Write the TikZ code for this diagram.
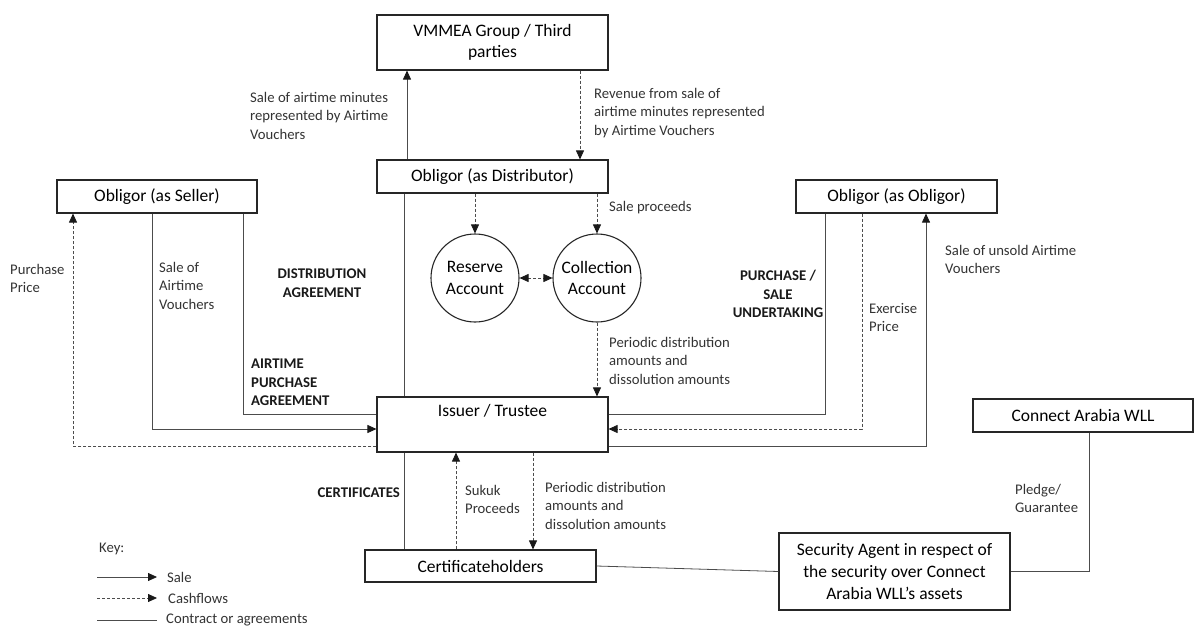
\documentclass[tikz,border=0pt]{standalone}
\usepackage{fontspec}
\setmainfont{Carlito}
\usepackage{tikz}
\usetikzlibrary{arrows.meta,positioning}

\newcommand{\boxtxt}{\fontsize{17.5}{21.6}\selectfont}
\newcommand{\lbltxt}{\fontsize{14.7}{18.5}\selectfont}
\newcommand{\bldtxt}{\fontsize{14.8}{18.5}\selectfont\bfseries}

\begin{document}
\begin{tikzpicture}[x=1pt, y=-1pt,
    >={Triangle[length=9pt,width=8pt,color=black!90]},
    box/.style={draw=black!85, line width=1.1pt, fill=white, font=\boxtxt, align=center, inner sep=2pt},
    acct/.style={circle, draw=black!85, line width=1.1pt, minimum size=88pt, font=\boxtxt, align=center, inner sep=0pt},
    lbl/.style={font=\lbltxt, text=black!80, align=left, inner sep=0pt},
    bld/.style={font=\bldtxt, text=black!90, align=left, inner sep=0pt},
    contract/.style={draw=black!70, line width=0.8pt},
    sale/.style={contract, ->},
    cash/.style={contract, dash pattern=on 3pt off 2pt, ->}]
            \useasboundingbox (0,0) rectangle (1194,626);
            \node[box, minimum width=231, minimum height=55] (vmmea) at (492.5,42.5) {VMMEA Group / Third\\parties};
            \node[box, minimum width=231, minimum height=33] (dist) at (492.5,176.5) {Obligor (as Distributor)};
            \node[acct] (reserve) at (475,278) {Reserve\\Account};
            \node[acct] (collect) at (597,278) {Collection\\Account};
            \node[box, minimum width=231, minimum height=55,
                label={[name=issuertext, anchor=north, yshift=-8pt, inner sep=0pt, font=\boxtxt]north:Issuer / Trustee}] (issuer) at (492.5,424.5) {};
            \node[box, minimum width=200, minimum height=33] (seller) at (157,196.5) {Obligor (as Seller)};
            \node[box, minimum width=201, minimum height=33] (oblig) at (896.5,196.5) {Obligor (as Obligor)};
            \node[box, minimum width=220, minimum height=33] (connect) at (1083,415.5) {Connect Arabia WLL};
            \node[box, minimum width=231, minimum height=77] (secagent) at (894.5,571.5) {Security Agent in respect of\\the security over Connect\\Arabia WLL’s assets};
            \node[box, minimum width=231, minimum height=32] (certs) at (480.5,566) {Certificateholders};

            \draw[sale] ([xshift=-85.5pt]dist.north) -- ([xshift=-85.5pt]vmmea.south);
            \draw[cash] ([xshift=87.5pt]vmmea.south) -- ([xshift=87.5pt]dist.north);
            \draw[cash] (dist.south -| reserve.north) -- (reserve.north);
            \draw[cash] (dist.south -| collect.north) -- (collect.north);
            \draw[cash, <->] (reserve) -- (collect);
            \draw[cash] (collect.south) -- (collect.south |- issuer.north);
            \draw[contract] ([xshift=-88.5pt]dist.south) -- ([xshift=-88.5pt]issuer.north);

            \draw[sale] ([xshift=-5pt]seller.south) |- ([yshift=-4.5pt]issuer.west);
            \draw[contract] ([xshift=86pt]seller.south) |- ([yshift=10.5pt]issuer.west);
            \draw[cash] ([yshift=-21.5pt]issuer.west) -| ([xshift=-84pt]seller.south);

            \draw[contract] ([xshift=-71.5pt]oblig.south) |- ([yshift=10.5pt]issuer.east);
            \draw[cash] ([xshift=-34.5pt]oblig.south) |- ([yshift=-4.5pt]issuer.east);
            \draw[sale] ([yshift=-21.5pt]issuer.east) -| ([xshift=29.5pt]oblig.south);

            \draw[contract] ([xshift=-88.5pt]issuer.south) -- ([xshift=-88.5pt]issuer.south |- certs.north);
            \draw[cash] ([xshift=-36.5pt]issuer.south |- certs.north) -- ([xshift=-36.5pt]issuer.south);
            \draw[cash] ([xshift=40.5pt]issuer.south) -- ([xshift=40.5pt]issuer.south |- certs.north);
            \draw[contract] (certs.east) -- (secagent.west);
            \draw[contract] ([xshift=6pt]connect.south) |- (secagent.east);

            \node[lbl, anchor=north west] (salemin) at (250,92) {Sale of airtime minutes\\represented by Airtime\\Vouchers};
            \node[lbl, anchor=north west] (revenue) at (594,88) {Revenue from sale of\\airtime minutes represented\\by Airtime Vouchers};
            \node[lbl, anchor=west] (saleproc) at (609,208) {Sale proceeds};
            \node[lbl, anchor=north west] (periodic) at (609,337) {Periodic distribution\\amounts and\\dissolution amounts};
            \node[lbl, anchor=north west] (purprice) at (10,264) {Purchase\\Price};
            \node[lbl, anchor=north west] (salevouch) at (159,262) {Sale of\\Airtime\\Vouchers};
            \node[bld, anchor=north, align=center] (distagr) at (322,269) {DISTRIBUTION\\AGREEMENT};
            \node[bld, anchor=north west] (apagr) at (251,359) {AIRTIME\\PURCHASE\\AGREEMENT};
            \node[bld, anchor=north, align=center] (psund) at (778,270) {PURCHASE /\\SALE\\UNDERTAKING};
            \node[lbl, anchor=north west] (exprice) at (869,303) {Exercise\\Price};
            \node[lbl, anchor=north west] (unsold) at (945,245) {Sale of unsold Airtime\\Vouchers};
            \node[bld, anchor=east] (certagr) at (400,493) {CERTIFICATES};
            \node[lbl, anchor=north west] (sukuk) at (465,485) {Sukuk\\Proceeds};
            \node[lbl, anchor=north west] (periodic2) at (545,482) {Periodic distribution\\amounts and\\dissolution amounts};
            \node[lbl, anchor=north west] (pledge) at (1015,484) {Pledge/\\Guarantee};

            \node[lbl, anchor=west] (keytitle) at (99,549) {Key:};
            \coordinate (ksalea) at (97,577);
            \coordinate (ksaleb) at (157,577);
            \coordinate (kcasha) at (97,598);
            \coordinate (kcashb) at (157,598);
            \coordinate (kcona) at (97,620);
            \coordinate (kconb) at (157,620);
            \draw[sale] (ksalea) -- (ksaleb);
            \draw[cash] (kcasha) -- (kcashb);
            \draw[contract] (kcona) -- (kconb);
            \node[lbl, anchor=west] (keysale) at (167,577) {Sale};
            \node[lbl, anchor=west] (keycash) at (168,598) {Cashflows};
            \node[lbl, anchor=west] (keycon) at (166,620) {Contract or agreements};
        \end{tikzpicture}
\end{document}
